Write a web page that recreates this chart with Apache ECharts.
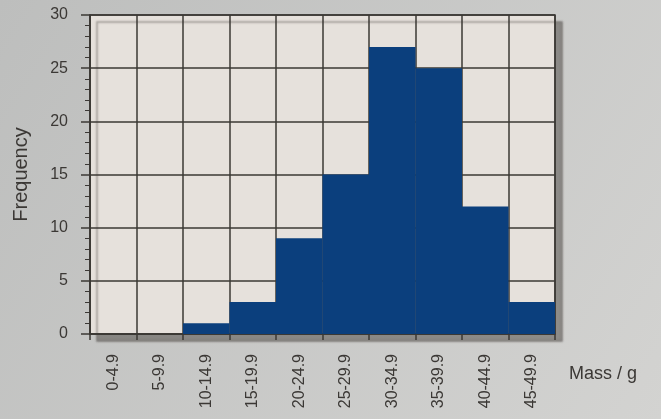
<!DOCTYPE html>
<html>
<head>
<meta charset="utf-8">
<script src="https://cdn.jsdelivr.net/npm/echarts@6/dist/echarts.min.js"></script>
<style>
  html, body { margin: 0; padding: 0; }
  #main { width: 661px; height: 419px; }
</style>
</head>
<body>
<div id="main"></div>
<script>
var massBins = ['0-4.9', '5-9.9', '10-14.9', '15-19.9', '20-24.9', '25-29.9', '30-34.9', '35-39.9', '40-44.9', '45-49.9'];
var frequency = [0, 0, 1, 3, 9, 15, 27, 25, 12, 3];

var chartDom = document.getElementById('main');
var myChart = echarts.init(chartDom);
var ink = '#3b3835';

var option = {
  animation: false,
  backgroundColor: {
    type: 'linear', x: 0, y: 0, x2: 1, y2: 1,
    colorStops: [{ offset: 0, color: '#bdbebd' }, { offset: 1, color: '#d3d3d1' }]
  },
  grid: {
    left: 90,
    right: 106,
    top: 15,
    bottom: 85,
    show: true,
    backgroundColor: '#e6e1dc',
    borderColor: ink,
    borderWidth: 1.5,
    shadowColor: 'rgba(60,55,50,0.45)',
    shadowOffsetX: 7,
    shadowOffsetY: 7,
    shadowBlur: 2
  },
  xAxis: {
    type: 'category',
    data: massBins,
    boundaryGap: true,
    name: 'Mass / g',
    nameLocation: 'end',
    nameGap: 14,
    nameTextStyle: {
      color: ink,
      fontSize: 18,
      fontFamily: 'Liberation Sans',
      verticalAlign: 'top',
      padding: [31, 0, 0, 0]
    },
    axisLine: { lineStyle: { color: ink, width: 1.5 } },
    axisTick: { show: true, length: 6, lineStyle: { color: ink, width: 1.5 } },
    axisLabel: {
      rotate: 90,
      margin: 20,
      color: ink,
      fontSize: 16,
      fontFamily: 'Liberation Sans'
    },
    splitLine: { show: true, lineStyle: { color: ink, width: 1.5 } }
  },
  yAxis: {
    type: 'value',
    min: 0,
    max: 30,
    interval: 5,
    name: 'Frequency',
    nameLocation: 'middle',
    nameGap: 59,
    nameTextStyle: { color: ink, fontSize: 20, fontFamily: 'Liberation Sans' },
    axisLine: { show: true, lineStyle: { color: ink, width: 1.5 } },
    axisTick: { show: true, length: 9, lineStyle: { color: ink, width: 1.5 } },
    minorTick: { show: true, splitNumber: 5, length: 5, lineStyle: { color: ink, width: 1 } },
    axisLabel: { margin: 22, color: ink, fontSize: 16, fontFamily: 'Liberation Sans' },
    splitLine: { show: true, lineStyle: { color: ink, width: 1.5 } }
  },
  series: [{
    type: 'bar',
    data: frequency,
    barCategoryGap: 0,
    itemStyle: { color: '#0b3f7d' }
  }]
};

myChart.setOption(option);
window.addEventListener('resize', function () { myChart.resize(); });
</script>
</body>
</html>
